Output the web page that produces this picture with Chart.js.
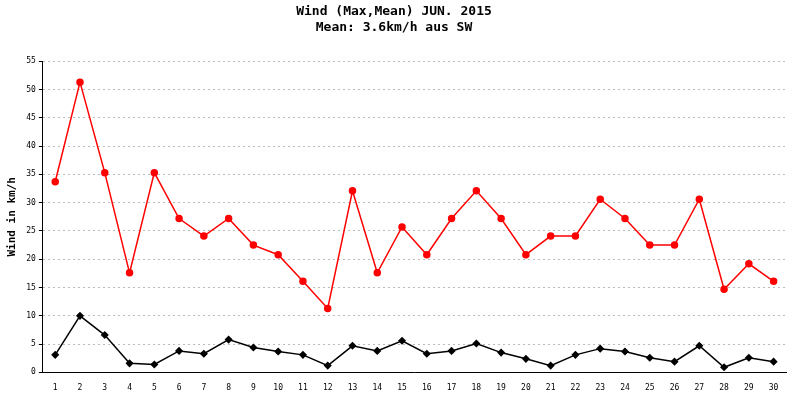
<!DOCTYPE html>
<html><head><script src="https://cdn.jsdelivr.net/npm/chart.js@4"></script>
<style>body{margin:0;background:#fff}#w{width:800px;height:400px}</style></head>
<body><div id="w"><canvas id="c"></canvas></div>
<script>
const days = Array.from({length:30},(_,i)=>String(i+1));
const maxWind = [33.7,51.3,35.3,17.6,35.3,27.2,24.1,27.2,22.5,20.8,16.1,11.3,32.1,17.6,25.7,20.8,27.2,32.1,27.2,20.8,24.1,24.1,30.6,27.2,22.5,22.5,30.6,14.7,19.2,16.1];
const meanWind = [3.1,10,6.6,1.6,1.4,3.8,3.3,5.8,4.4,3.7,3.1,1.2,4.7,3.8,5.6,3.3,3.8,5.1,3.5,2.4,1.2,3.1,4.2,3.7,2.6,1.9,4.7,0.9,2.6,1.9];
const titleLines = ['Wind (Max,Mean) JUN. 2015','Mean: 3.6km/h aus SW'];
new Chart(document.getElementById('c'),{
 type:'line',
 data:{labels:days,datasets:[
  {data:maxWind,borderColor:'#ff0000',backgroundColor:'#ff0000',borderWidth:1.5,pointRadius:3,pointStyle:'circle',tension:0},
  {data:meanWind,borderColor:'#000',backgroundColor:'#000',borderWidth:1.5,pointRadius:3,pointStyle:'rectRot',tension:0}
 ]},
 options:{responsive:true,maintainAspectRatio:false,animation:false,
  layout:{padding:{left:2,right:14,top:0,bottom:4}},
  plugins:{legend:{display:false},tooltip:{enabled:false},
   title:{display:true,text:titleLines,color:'#000',font:{family:'DejaVu Sans Mono',size:13,weight:'bold'},padding:{top:4,bottom:26},lineHeight:1.3}},
  scales:{
   x:{offset:true,grid:{display:false},border:{color:'#000'},ticks:{color:'#000',font:{family:'DejaVu Sans Mono',size:8}}},
   y:{min:0,max:55,ticks:{stepSize:5,color:'#000',font:{family:'DejaVu Sans Mono',size:8}},border:{color:'#000',dash:[2,3]},
      grid:{color:'#bbb',tickLength:4,tickColor:'#000'},
      title:{display:true,text:'Wind in km/h',color:'#000',font:{family:'DejaVu Sans Mono',size:11,weight:'bold'}}}
  }}
});
</script></body></html>
